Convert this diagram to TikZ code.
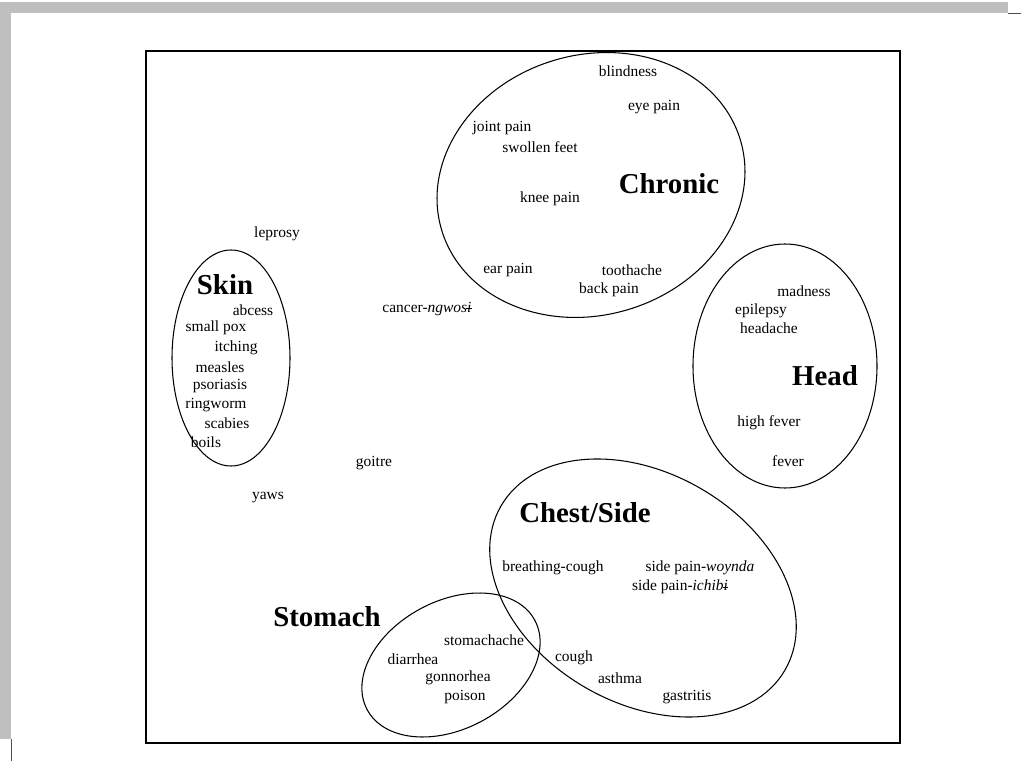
\documentclass[tikz,border=0pt]{standalone}
\usepackage{fontspec}
\setmainfont{Liberation Serif}
\usepackage{tikz}

% i with a bar through it
\newcommand{\barredi}{\ooalign{\itshape i\cr\hidewidth\kern-0.06em\rule[0.22em]{0.34em}{0.05em}\hidewidth\cr}}

\begin{document}
\begin{tikzpicture}[x=0.025cm,y=-0.025cm,
  illness/.style={inner sep=0pt,font=\fontsize{11}{13}\selectfont},
  group/.style={inner sep=0pt,font=\fontsize{20.5}{24}\selectfont\bfseries},
  ring/.style={draw,line width=0.75pt}]
\useasboundingbox (0,0) rectangle (1021,761);
% scan edges
\fill[black!25] (0,2) rectangle (1008,13);
\fill[black!25] (0,2) rectangle (11,739);
\draw[black!70,line width=0.4pt] (1008,13) -- (1021,13);
\draw[black!70,line width=0.4pt] (11,739) -- (11,761);
% frame
\draw[line width=1.1pt] (146,51) rectangle (900,743);

% the groups
\draw[ring] (591,185) ellipse [x radius=156, y radius=130, rotate=17];
\draw[ring] (231,358) ellipse [x radius=59, y radius=108];
\draw[ring] (785,366) ellipse [x radius=92, y radius=122];
\draw[ring] (643,588) ellipse [x radius=164, y radius=115, rotate=-30];
\draw[ring] (451,665) ellipse [x radius=95, y radius=64, rotate=28];

\node[group] (chronic) at (669,184) {Chronic};
\node[illness] (blind) at (628,71) {blindness};
\node[illness] (eye) at (654,107) {eye pain};
\node[illness] (joint) at (502,128) {joint pain};
\node[illness] (feet) at (540,147) {swollen feet};
\node[illness] (knee) at (550,199) {knee pain};
\node[illness] (ear) at (508,270) {ear pain};
\node[illness] (tooth) at (632,270) {toothache};
\node[illness] (back) at (609,290) {back pain};

\node[illness] (leprosy) at (277,234) {leprosy};
\node[illness] (cancer) at (427,309) {cancer-\textit{ngwos}\barredi};
\node[illness] (goitre) at (374,463) {goitre};
\node[illness] (yaws) at (268,498) {yaws};

\node[group] (skin) at (225,285) {Skin};
\node[illness] (abcess) at (253,310) {abcess};
\node[illness] (pox) at (216,328) {small pox};
\node[illness] (itching) at (236,348) {itching};
\node[illness] (measles) at (220,367) {measles};
\node[illness] (psoriasis) at (220,386) {psoriasis};
\node[illness] (ringworm) at (216,405) {ringworm};
\node[illness] (scabies) at (227,423) {scabies};
\node[illness] (boils) at (206,442) {boils};

\node[group] (head) at (825,376) {Head};
\node[illness] (madness) at (804,291) {madness};
\node[illness] (epilepsy) at (761,311) {epilepsy};
\node[illness] (headache) at (769,328) {headache};
\node[illness] (hfever) at (769,423) {high fever};
\node[illness] (fever) at (788,461) {fever};

\node[group] (chest) at (585,513) {Chest/Side};
\node[illness] (breath) at (553,568) {breathing-cough};
\node[illness] (woynda) at (700,568) {side pain-\textit{woynda}};
\node[illness] (ichibi) at (680,587) {side pain-\textit{ichib}\barredi};
\node[illness] (cough) at (574,658) {cough};
\node[illness] (asthma) at (620,678) {asthma};
\node[illness] (gastritis) at (687,697) {gastritis};

\node[group] (stomach) at (327,617) {Stomach};
\node[illness] (ache) at (484,640) {stomachache};
\node[illness] (diarrhea) at (413,659) {diarrhea};
\node[illness] (gonnorhea) at (458,678) {gonnorhea};
\node[illness] (poison) at (465,697) {poison};
\end{tikzpicture}
\end{document}
